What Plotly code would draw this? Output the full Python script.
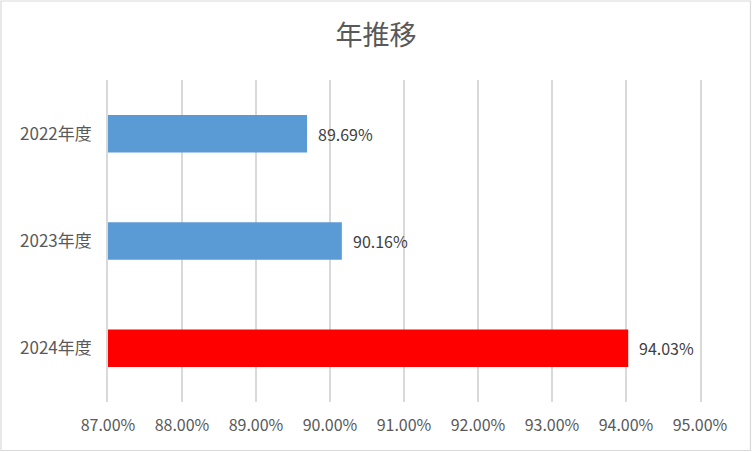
import plotly.graph_objects as go

categories = ['2022年度', '2023年度', '2024年度']
rates = [0.8969, 0.9016, 0.9403]
bar_colors = ['#5B9BD5', '#5B9BD5', '#FF0000']

W, H = 752, 452
L, R, T, B = 108, 52, 80, 50
pw, ph = W - L - R, H - T - B

fig = go.Figure()
fig.add_trace(go.Bar(
    y=categories,
    x=rates,
    orientation='h',
    marker=dict(color=bar_colors, line=dict(width=0)),
    hoverinfo='x+y',
))

# data labels sit a little to the right of each bar, as in Excel
for cat, v in zip(categories, rates):
    fig.add_annotation(
        x=v, y=cat, text=f'{v:.2%}', showarrow=False,
        xanchor='left', xshift=9,
        font=dict(size=16, color='#404040'),
    )

fig.update_layout(
    width=W, height=H,
    margin=dict(l=L, r=R, t=T, b=B),
    paper_bgcolor='white', plot_bgcolor='white',
    font=dict(family='Noto Sans CJK JP', color='#595959'),
    title=dict(text='年推移', x=0.5, xanchor='center', y=1 - 36 / H, yanchor='middle',
               font=dict(size=27, color='#595959')),
    bargap=0.65,
    showlegend=False,
    shapes=[dict(
        type='rect', xref='paper', yref='paper',
        x0=-(L - 1) / pw, x1=1 + (R - 1.5) / pw,
        y0=-(B - 1.5) / ph, y1=1 + (T - 1) / ph,
        line=dict(color='#D9D9D9', width=1.2),
    )],
)
fig.update_xaxes(
    range=[0.87, 0.95], dtick=0.01, tickformat='.2%',
    showgrid=True, gridcolor='#D9D9D9', gridwidth=1.6,
    zeroline=False, showline=False, ticks='',
    tickfont=dict(size=16, color='#595959'), ticklabelstandoff=12,
)
# edge gridlines (87% and 95%) drawn as the y-axis line and its mirror
fig.update_yaxes(
    autorange='reversed', showgrid=False, zeroline=False, ticks='',
    showline=True, mirror=True, linecolor='#D9D9D9', linewidth=1.6,
    tickfont=dict(size=17, color='#595959'), ticklabelstandoff=11,
)

fig.write_html('out.html', config={'displayModeBar': False},
               post_script="document.body.style.margin='0';")
